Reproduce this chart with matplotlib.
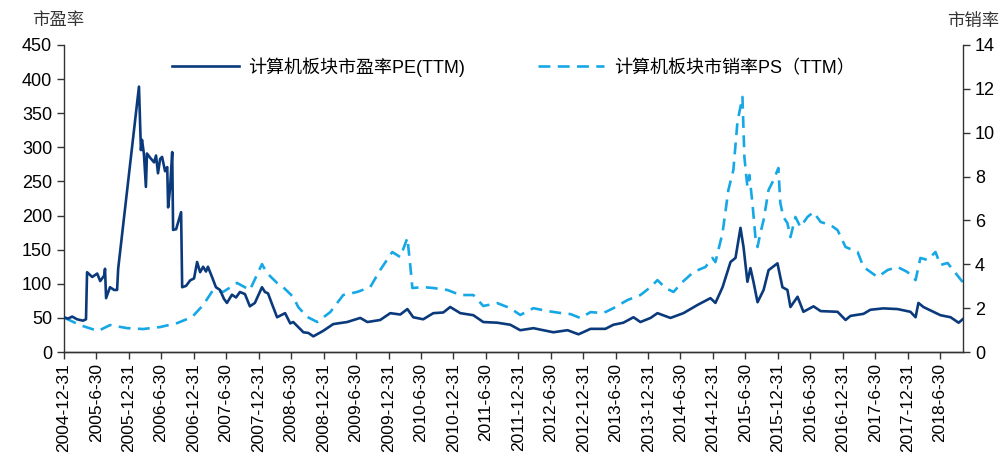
import numpy as np
import pandas as pd
import matplotlib
matplotlib.use('Agg')
import matplotlib.pyplot as plt

plt.rcParams['font.family'] = ['Liberation Sans', 'Noto Sans CJK SC']
plt.rcParams['axes.unicode_minus'] = False

# 计算机板块市盈率 PE(TTM)
pe_dates = ['2004-12-31', '2005-01-23', '2005-02-15', '2005-03-15', '2005-04-17', '2005-05-04',
            '2005-05-10', '2005-06-08', '2005-07-06', '2005-07-23', '2005-08-14', '2005-08-19',
            '2005-08-25', '2005-09-16', '2005-10-09', '2005-10-26', '2005-11-01', '2006-02-26',
            '2006-03-09', '2006-03-15', '2006-03-26', '2006-04-06', '2006-04-12', '2006-04-29',
            '2006-05-22', '2006-06-02', '2006-06-13', '2006-06-25', '2006-07-06', '2006-07-23',
            '2006-08-04', '2006-08-09', '2006-08-20', '2006-09-01', '2006-09-06', '2006-09-23',
            '2006-10-10', '2006-10-21', '2006-10-27', '2006-11-18', '2006-12-11', '2007-01-02',
            '2007-01-19', '2007-02-05', '2007-02-22', '2007-03-10', '2007-03-21', '2007-04-13',
            '2007-05-05', '2007-05-28', '2007-06-19', '2007-07-06', '2007-08-03', '2007-08-26',
            '2007-09-17', '2007-10-15', '2007-11-12', '2007-12-10', '2008-01-19', '2008-02-05',
            '2008-02-22', '2008-03-16', '2008-04-13', '2008-05-28', '2008-06-26', '2008-07-13',
            '2008-09-08', '2008-10-06', '2008-11-03', '2008-12-28', '2009-02-23', '2009-05-12',
            '2009-07-25', '2009-09-03', '2009-11-14', '2010-01-10', '2010-03-07', '2010-04-16',
            '2010-05-19', '2010-07-14', '2010-09-09', '2010-11-04', '2010-12-13', '2011-02-08',
            '2011-04-22', '2011-06-17', '2011-09-04', '2011-11-16', '2012-01-11', '2012-03-25',
            '2012-07-15', '2012-10-03', '2012-12-04', '2013-02-09', '2013-05-04', '2013-06-18',
            '2013-08-13', '2013-10-09', '2013-11-17', '2014-01-13', '2014-02-21', '2014-05-05',
            '2014-07-17', '2014-10-04', '2014-12-16', '2015-01-13', '2015-02-22', '2015-04-08',
            '2015-05-06', '2015-06-03', '2015-06-20', '2015-07-12', '2015-07-29', '2015-08-15',
            '2015-09-07', '2015-10-11', '2015-11-08', '2015-12-28', '2016-01-25', '2016-02-22',
            '2016-03-10', '2016-04-19', '2016-05-22', '2016-07-18', '2016-08-27', '2016-11-30',
            '2017-01-14', '2017-02-11', '2017-04-25', '2017-06-03', '2017-08-15', '2017-11-02',
            '2018-01-14', '2018-02-12', '2018-02-28', '2018-03-28', '2018-05-23', '2018-07-02',
            '2018-08-28', '2018-10-12', '2018-11-04']
pe_values = [51, 49, 52, 48, 46, 48,
             117, 110, 115, 104, 112, 122,
             79, 95, 91, 91, 122, 389,
             296, 311, 290, 242, 291, 285,
             278, 288, 262, 283, 286, 265,
             271, 212, 240, 293, 179, 180,
             195, 205, 95, 97, 105, 108,
             132, 117, 125, 118, 125, 110,
             95, 91, 78, 72, 84, 80,
             88, 85, 67, 72, 95, 88,
             86, 70, 51, 57, 42, 44,
             29, 28, 23, 31, 41, 44,
             50, 44, 47, 57, 55, 63,
             51, 48, 57, 58, 66, 57,
             54, 44, 43, 40, 32, 35,
             29, 32, 26, 34, 34, 40,
             43, 51, 44, 50, 57, 50,
             57, 69, 79, 72, 95, 132,
             138, 182, 154, 103, 123, 103,
             73, 91, 120, 130, 95, 91,
             66, 81, 59, 67, 60, 59,
             47, 53, 56, 62, 64, 63,
             59, 51, 72, 66, 59, 54,
             51, 43, 48]

# 计算机板块市销率 PS(TTM)
ps_dates = ['2005-01-06', '2005-03-31', '2005-07-11', '2005-09-16', '2005-12-21', '2006-03-21',
            '2006-06-25', '2006-09-29', '2006-12-22', '2007-02-22', '2007-04-19', '2007-06-14',
            '2007-09-01', '2007-11-12', '2008-01-19', '2008-02-16', '2008-04-13', '2008-05-17',
            '2008-07-13', '2008-08-10', '2008-09-30', '2008-11-25', '2009-02-06', '2009-04-20',
            '2009-07-08', '2009-09-19', '2009-11-14', '2010-01-21', '2010-03-07', '2010-04-16',
            '2010-05-03', '2010-05-14', '2010-07-14', '2010-09-09', '2010-11-27', '2011-02-08',
            '2011-04-22', '2011-06-17', '2011-09-04', '2011-11-16', '2012-01-11', '2012-03-25',
            '2012-06-12', '2012-08-24', '2012-10-20', '2012-12-15', '2013-02-09', '2013-04-23',
            '2013-06-18', '2013-09-05', '2013-11-17', '2014-01-13', '2014-02-21', '2014-04-07',
            '2014-05-22', '2014-07-11', '2014-09-12', '2014-11-18', '2014-12-27', '2015-01-13',
            '2015-02-22', '2015-03-27', '2015-04-24', '2015-05-17', '2015-06-14', '2015-06-25',
            '2015-07-12', '2015-07-23', '2015-08-09', '2015-08-26', '2015-09-07', '2015-09-23',
            '2015-10-11', '2015-11-08', '2015-12-06', '2016-01-02', '2016-01-13', '2016-01-30',
            '2016-02-22', '2016-03-10', '2016-04-07', '2016-05-05', '2016-06-14', '2016-07-18',
            '2016-08-27', '2016-10-22', '2016-11-30', '2017-01-14', '2017-03-23', '2017-04-25',
            '2017-07-13', '2017-09-08', '2017-11-02', '2017-12-28', '2018-02-12', '2018-03-11',
            '2018-04-20', '2018-06-04', '2018-07-02', '2018-08-11', '2018-09-25', '2018-11-04']
ps_values = [1.55, 1.23, 0.96, 1.23, 1.09, 1.05,
             1.14, 1.32, 1.60, 2.14, 2.83, 2.74,
             3.15, 2.83, 4.01, 3.60, 3.15, 2.96,
             2.51, 2.05, 1.60, 1.37, 1.82, 2.60,
             2.74, 2.96, 3.74, 4.56, 4.33, 5.20,
             3.88, 2.92, 2.96, 2.92, 2.83, 2.60,
             2.60, 2.10, 2.23, 2.00, 1.69, 2.00,
             1.87, 1.78, 1.73, 1.55, 1.82, 1.78,
             2.00, 2.37, 2.60, 2.96, 3.28, 2.92,
             2.74, 3.19, 3.65, 3.88, 4.29, 4.10,
             5.43, 7.39, 8.30, 10.50, 11.63, 8.89,
             7.52, 8.07, 6.80, 5.24, 4.79, 5.43,
             6.02, 7.39, 7.84, 8.39, 6.80, 6.16,
             5.88, 5.24, 6.16, 5.70, 6.16, 6.38,
             5.93, 5.79, 5.56, 4.79, 4.56, 3.88,
             3.42, 3.74, 3.88, 3.65, 3.28, 4.29,
             4.20, 4.56, 3.97, 4.06, 3.60, 3.19]

tick_dates = ['2004-12-31', '2005-6-30', '2005-12-31', '2006-6-30', '2006-12-31', '2007-6-30',
              '2007-12-31', '2008-6-30', '2008-12-31', '2009-6-30', '2009-12-31', '2010-6-30',
              '2010-12-31', '2011-6-30', '2011-12-31', '2012-6-30', '2012-12-31', '2013-6-30',
              '2013-12-31', '2014-6-30', '2014-12-31', '2015-6-30', '2015-12-31', '2016-6-30',
              '2016-12-31', '2017-6-30', '2017-12-31', '2018-6-30']

pe_x = pd.to_datetime(pe_dates)
ps_x = pd.to_datetime(ps_dates)
tick_x = pd.to_datetime(tick_dates)

navy = '#0B3A7C'
sky = '#16A8E6'

fig = plt.figure(figsize=(10.04, 4.59), dpi=100)
ax = fig.add_axes([0.0637, 0.233, 0.8955, 0.669])
ax2 = ax.twinx()

l1, = ax.plot(pe_x, pe_values, color=navy, lw=1.9, label='计算机板块市盈率PE(TTM)', zorder=3)
l2, = ax2.plot(ps_x, ps_values, color=sky, lw=1.9, ls=(0, (4.5, 2.8)),
               label='计算机板块市销率PS（TTM）', zorder=2)
# keep the PE line drawn above the PS line
ax.set_zorder(ax2.get_zorder() + 1)
ax.patch.set_visible(False)

ax.set_ylim(0, 450)
ax.set_yticks(np.arange(0, 451, 50))
ax2.set_ylim(0, 14)
ax2.set_yticks(np.arange(0, 15, 2))
ax.set_xlim(pd.Timestamp('2004-12-31'), pd.Timestamp('2018-11-06'))
ax.set_xticks(tick_x)
ax.set_xticklabels(tick_dates, rotation=90)

for a in (ax, ax2):
    a.spines['top'].set_visible(False)
    for s in ('left', 'right', 'bottom'):
        a.spines[s].set_color('#333333')
        a.spines[s].set_linewidth(1.0)
    a.tick_params(direction='out', length=5, width=1, colors='#333333', labelcolor='black', labelsize=13)
ax.spines['right'].set_visible(False)
ax2.spines['left'].set_visible(False)
ax.tick_params(axis='x', labelsize=12.5, pad=3)

fig.text(0.032, 0.955, '市盈率', fontsize=12.5, ha='left', va='center', color='#333333')
fig.text(0.995, 0.955, '市销率', fontsize=12.5, ha='right', va='center', color='#333333')

ax.legend(handles=[l1, l2], loc='center', bbox_to_anchor=(0.5, 1 - (67 - 45) / 307),
          ncol=2, frameon=False, fontsize=13, handlelength=3.7, columnspacing=4.0,
          handletextpad=0.55)

fig.savefig('out.png', dpi=100)
